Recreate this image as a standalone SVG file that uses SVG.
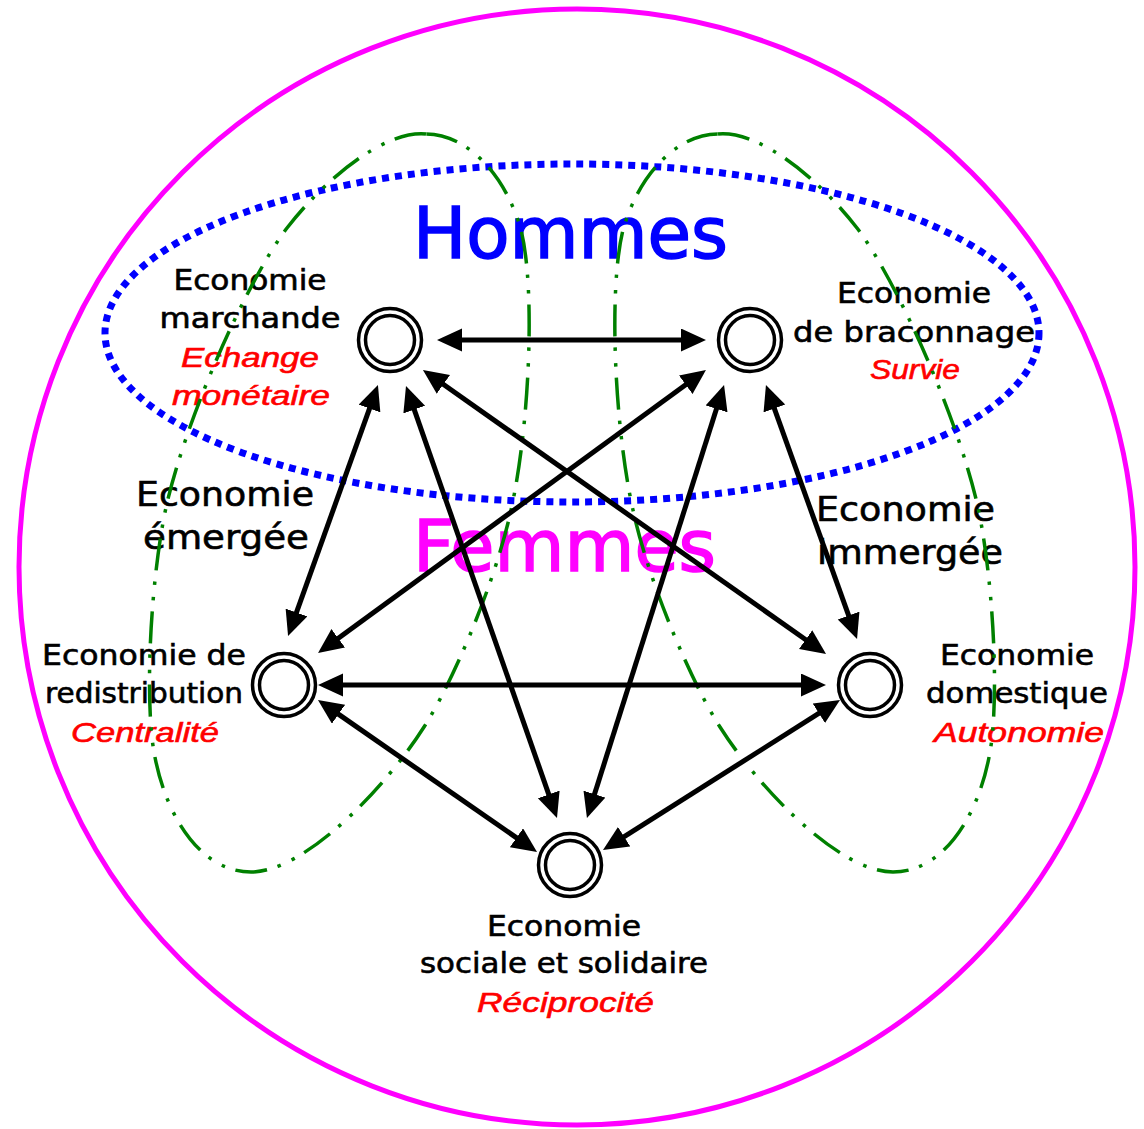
<svg xmlns="http://www.w3.org/2000/svg" width="1144" height="1129" viewBox="0 0 1144 1129">
<style>
.lbl{font-family:"DejaVu Sans",Verdana,sans-serif;font-size:27.5px;fill:#000;stroke:#000;stroke-width:0.6;text-anchor:middle}
.sub{font-family:"Liberation Sans",Arial,sans-serif;font-style:italic;font-size:28px;fill:#ff0000;stroke:#ff0000;stroke-width:0.6;text-anchor:middle}
.big{font-family:"DejaVu Sans",Verdana,sans-serif;font-size:34px;fill:#000;stroke:#000;stroke-width:0.6;text-anchor:middle}
.title{font-family:"DejaVu Sans",Verdana,sans-serif;font-size:72px;stroke-width:1.6;text-anchor:middle}
.outer{fill:#fff;stroke:#000;stroke-width:3.5}
.inner{fill:none;stroke:#000;stroke-width:3.5}
.loop{fill:none;stroke:#008000;stroke-width:3.5;stroke-dasharray:32 11 3.5 12 3.5 11}
.arr{stroke:#000;stroke-width:5;fill:none;marker-start:url(#ah);marker-end:url(#ah)}
</style>
<defs>
<marker id="ah" markerUnits="userSpaceOnUse" markerWidth="26" markerHeight="24" refX="5" refY="11.5" orient="auto-start-reverse" viewBox="0 0 26 24">
<path d="M0,0 L25,11.5 L0,23 Z" fill="#000"/>
</marker>
</defs>
<rect width="1144" height="1129" fill="#fff"/>
<g id="gender-areas">
<circle cx="577" cy="567" r="558" fill="none" stroke="#ff00ff" stroke-width="5"/>
<ellipse cx="572" cy="333" rx="467" ry="169" fill="none" stroke="#0000ff" stroke-width="7" stroke-dasharray="7 6"/>
<text class="title" x="570.5" y="258" fill="#0000ff" stroke="#0000ff" textLength="315" lengthAdjust="spacingAndGlyphs">Hommes</text>
<text class="title" x="564.5" y="571" fill="#ff00ff" stroke="#ff00ff" textLength="303" lengthAdjust="spacingAndGlyphs">Femmes</text>
</g>
<g id="economy-labels">
<text class="big" x="225" y="506" textLength="178" lengthAdjust="spacingAndGlyphs">Economie</text>
<text class="big" x="226" y="549" textLength="166" lengthAdjust="spacingAndGlyphs">émergée</text>
<text class="big" x="905.5" y="521" textLength="179" lengthAdjust="spacingAndGlyphs">Economie</text>
<text class="big" x="910" y="564" textLength="186" lengthAdjust="spacingAndGlyphs">immergée</text>
</g>
<g id="node-labels">
<text class="lbl" x="250" y="290" textLength="153" lengthAdjust="spacingAndGlyphs">Economie</text>
<text class="lbl" x="250" y="328" textLength="181" lengthAdjust="spacingAndGlyphs">marchande</text>
<text class="sub" x="250" y="367" textLength="138" lengthAdjust="spacingAndGlyphs">Echange</text>
<text class="sub" x="251" y="405" textLength="158" lengthAdjust="spacingAndGlyphs">monétaire</text>
<text class="lbl" x="914" y="303" textLength="154" lengthAdjust="spacingAndGlyphs">Economie</text>
<text class="lbl" x="914" y="342" textLength="242" lengthAdjust="spacingAndGlyphs">de braconnage</text>
<text class="sub" x="915" y="379" textLength="90" lengthAdjust="spacingAndGlyphs">Survie</text>
<text class="lbl" x="144" y="665" textLength="204" lengthAdjust="spacingAndGlyphs">Economie de</text>
<text class="lbl" x="144" y="703" textLength="198" lengthAdjust="spacingAndGlyphs">redistribution</text>
<text class="sub" x="145" y="742" textLength="148" lengthAdjust="spacingAndGlyphs">Centralité</text>
<text class="lbl" x="1017" y="665" textLength="154" lengthAdjust="spacingAndGlyphs">Economie</text>
<text class="lbl" x="1017" y="703" textLength="182" lengthAdjust="spacingAndGlyphs">domestique</text>
<text class="sub" x="1019" y="742" textLength="170" lengthAdjust="spacingAndGlyphs">Autonomie</text>
<text class="lbl" x="564" y="936" textLength="154" lengthAdjust="spacingAndGlyphs">Economie</text>
<text class="lbl" x="564" y="973" textLength="288" lengthAdjust="spacingAndGlyphs">sociale et solidaire</text>
<text class="sub" x="565.5" y="1012" textLength="177" lengthAdjust="spacingAndGlyphs">Réciprocité</text>
</g>
<g id="loops">
<path id="loop-right" class="loop" d="M718,134 C760,130 820,180 857,228 C895,278 955,410 977,503 C990,560 998,660 993,727 C988,800 950,872 893,872 C840,872 760,790 720,727 C690,680 648,580 633,510 C615,430 608,290 623,230 C640,170 680,134 718,134 Z"/>
<path id="loop-left" class="loop" transform="translate(1144,0) scale(-1,1)" d="M718,134 C760,130 820,180 857,228 C895,278 955,410 977,503 C990,560 998,660 993,727 C988,800 950,872 893,872 C840,872 760,790 720,727 C690,680 648,580 633,510 C615,430 608,290 623,230 C640,170 680,134 718,134 Z"/>
</g>
<g id="connectors">
<line class="arr" x1="457" y1="340" x2="686" y2="340"/>
<line class="arr" x1="371.2" y1="403.8" x2="294.8" y2="617.2"/>
<line class="arr" x1="412.6" y1="404.9" x2="550.4" y2="799.1"/>
<line class="arr" x1="439.3" y1="381.5" x2="809.7" y2="642.5"/>
<line class="arr" x1="689.8" y1="381.8" x2="334.2" y2="641.2"/>
<line class="arr" x1="718" y1="404.1" x2="593" y2="798.9"/>
<line class="arr" x1="772.7" y1="403.8" x2="850.3" y2="620.2"/>
<line class="arr" x1="338" y1="685" x2="806" y2="685"/>
<line class="arr" x1="334.4" y1="711.4" x2="520.6" y2="840.6"/>
<line class="arr" x1="823.1" y1="710.7" x2="619.9" y2="839.3"/>
</g>
<g id="node-marchande"><circle class="outer" cx="390" cy="340" r="31.5"/><circle class="inner" cx="390" cy="340" r="24.5"/></g>
<g id="node-braconnage"><circle class="outer" cx="750" cy="340" r="31.5"/><circle class="inner" cx="750" cy="340" r="24.5"/></g>
<g id="node-redistribution"><circle class="outer" cx="284" cy="685" r="31.5"/><circle class="inner" cx="284" cy="685" r="24.5"/></g>
<g id="node-domestique"><circle class="outer" cx="870" cy="685" r="31.5"/><circle class="inner" cx="870" cy="685" r="24.5"/></g>
<g id="node-sociale"><circle class="outer" cx="570" cy="865" r="31.5"/><circle class="inner" cx="570" cy="865" r="24.5"/></g>
</svg>
